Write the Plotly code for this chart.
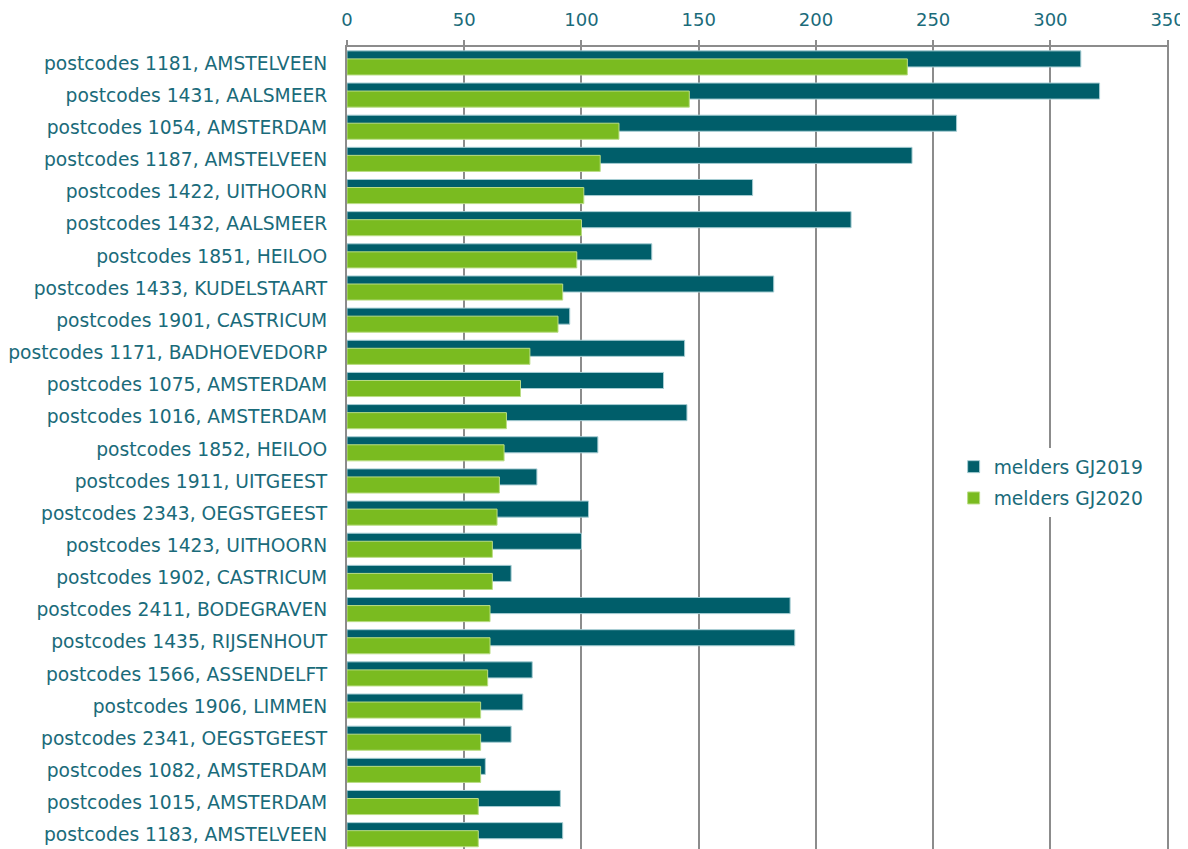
import plotly.graph_objects as go

categories = [
    "postcodes 1181, AMSTELVEEN", "postcodes 1431, AALSMEER", "postcodes 1054, AMSTERDAM",
    "postcodes 1187, AMSTELVEEN", "postcodes 1422, UITHOORN", "postcodes 1432, AALSMEER",
    "postcodes 1851, HEILOO", "postcodes 1433, KUDELSTAART", "postcodes 1901, CASTRICUM",
    "postcodes 1171, BADHOEVEDORP", "postcodes 1075, AMSTERDAM", "postcodes 1016, AMSTERDAM",
    "postcodes 1852, HEILOO", "postcodes 1911, UITGEEST", "postcodes 2343, OEGSTGEEST",
    "postcodes 1423, UITHOORN", "postcodes 1902, CASTRICUM", "postcodes 2411, BODEGRAVEN",
    "postcodes 1435, RIJSENHOUT", "postcodes 1566, ASSENDELFT", "postcodes 1906, LIMMEN",
    "postcodes 2341, OEGSTGEEST", "postcodes 1082, AMSTERDAM", "postcodes 1015, AMSTERDAM",
    "postcodes 1183, AMSTELVEEN",
]
melders_gj2019 = [313, 321, 260, 241, 173, 215, 130, 182, 95, 144, 135, 145, 107, 81, 103,
                  100, 70, 189, 191, 79, 75, 70, 59, 91, 92]
melders_gj2020 = [239, 146, 116, 108, 101, 100, 98, 92, 90, 78, 74, 68, 67, 65, 64,
                  62, 62, 61, 61, 60, 57, 57, 57, 56, 56]
x_ticks = [0, 50, 100, 150, 200, 250, 300, 350]

TEAL = "#005E6A"
GREEN = "#7ABB20"
TEXT = "#1A6B7A"
GRID = "#8C8C8C"

idx = list(range(len(categories)))

fig = go.Figure()
fig.add_trace(go.Bar(
    y=idx, x=melders_gj2019, orientation="h", name="melders GJ2019",
    legendgroup="a",
    marker=dict(color=TEAL, line=dict(color="#A6CDD3", width=1)),
    width=0.5, offset=-0.38,
))
fig.add_trace(go.Bar(
    y=idx, x=melders_gj2020, orientation="h", name="melders GJ2020",
    legendgroup="b",
    marker=dict(color=GREEN, line=dict(color="#BADD85", width=1)),
    width=0.5, offset=-0.13,
))

fig.update_layout(
    width=1180, height=841,
    margin=dict(l=339, r=19, t=39, b=0),
    paper_bgcolor="white", plot_bgcolor="white",
    barmode="overlay",
    font=dict(family="DejaVu Sans, Verdana, sans-serif", size=18, color=TEXT),
    showlegend=True,
    legend=dict(
        x=0.738, y=0.5, xanchor="left", yanchor="top",
        bgcolor="white", font=dict(size=18.7, color=TEXT),
        itemwidth=30, traceorder="grouped", tracegroupgap=4,
    ),
    xaxis=dict(
        side="top", range=[0, 350.6], tickvals=x_ticks,
        showgrid=True, gridcolor=GRID, gridwidth=2,
        showline=True, linecolor=GRID, linewidth=2,
        ticks="outside", ticklen=5, tickcolor=GRID, tickwidth=2,
        zeroline=False, ticklabelstandoff=7,
        tickfont=dict(size=18, color=TEXT),
    ),
    yaxis=dict(
        range=[24.44, -0.5], tickvals=idx, ticktext=categories,
        showgrid=False, zeroline=False,
        showline=True, linecolor=GRID, linewidth=2,
        ticks="outside", ticklen=14, tickcolor="rgba(0,0,0,0)",
        tickfont=dict(size=18.7, color=TEXT),
    ),
)

fig.write_html("out.html")
